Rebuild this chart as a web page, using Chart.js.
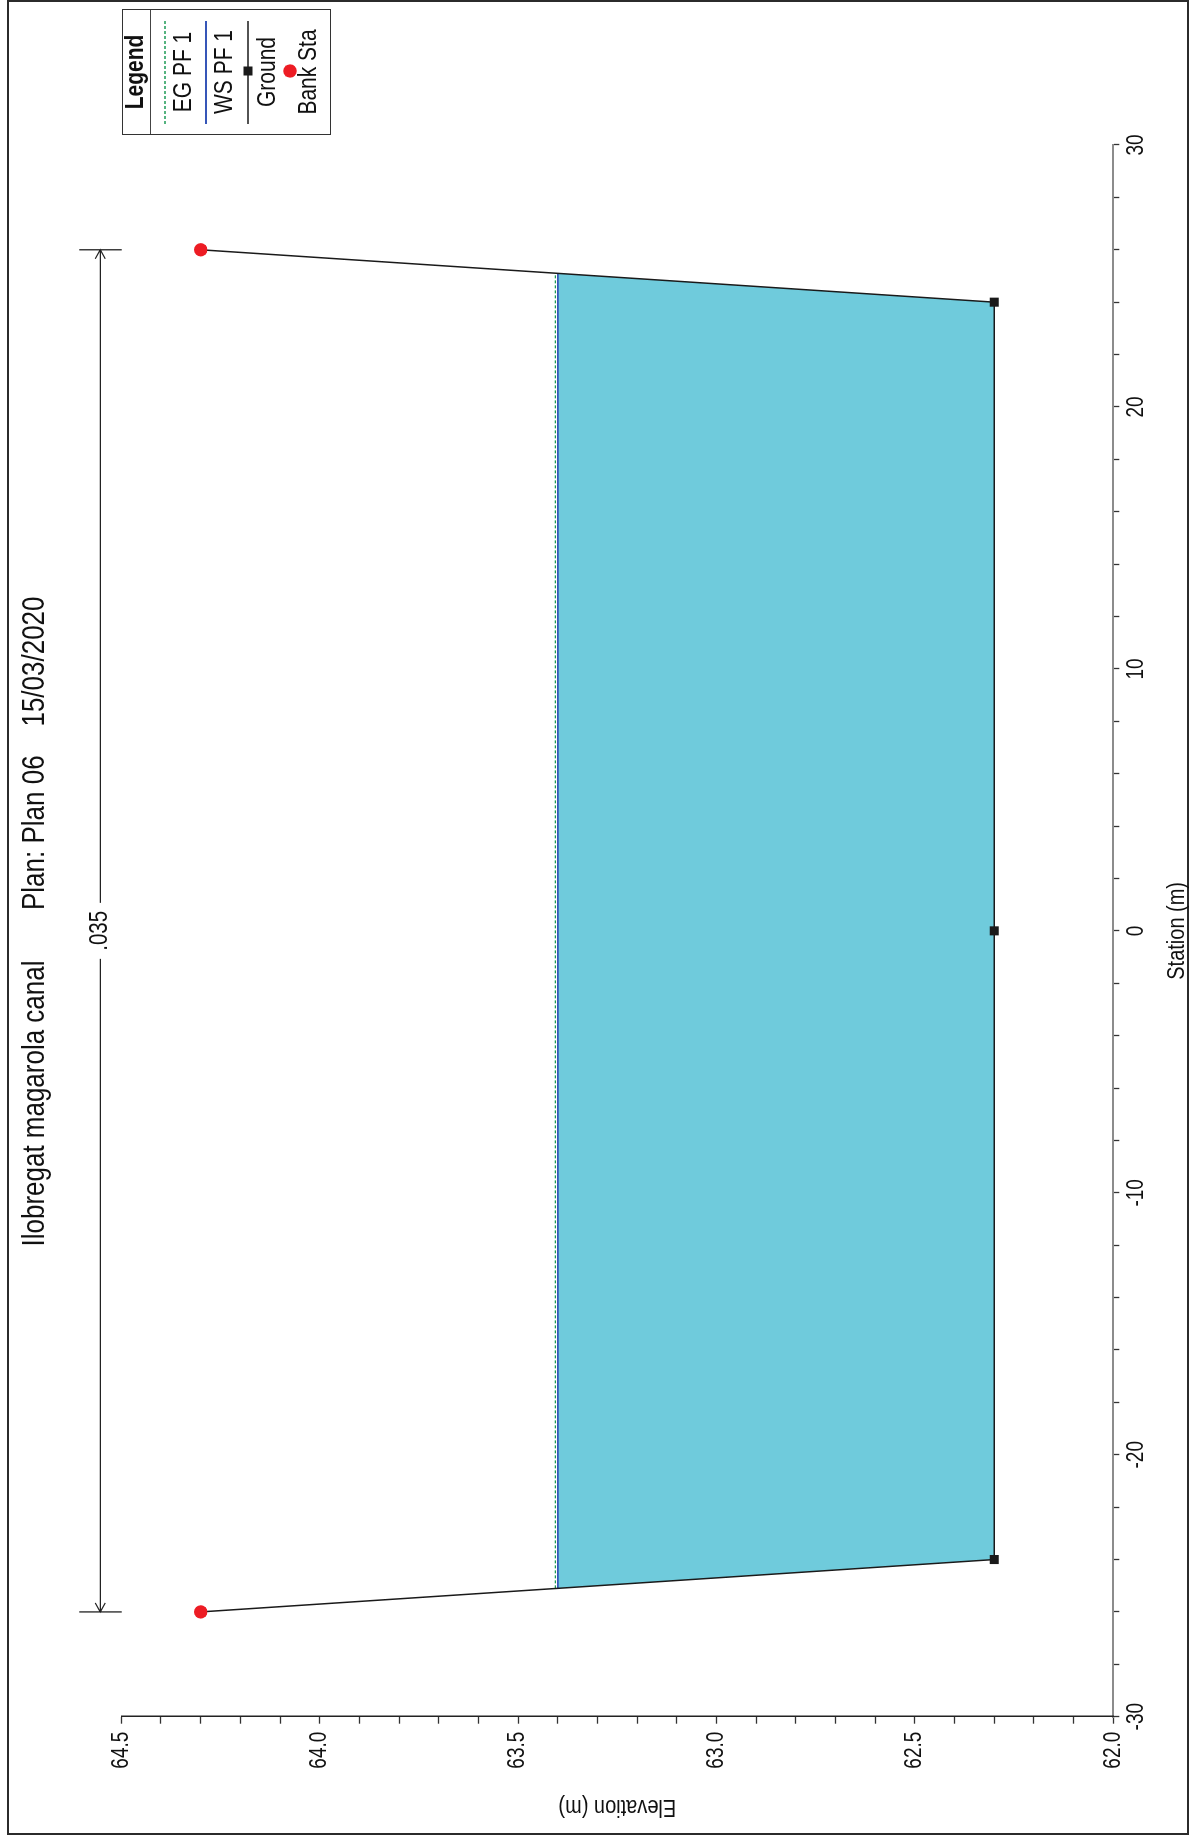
<!DOCTYPE html>
<html lang="es">
<head>
<meta charset="UTF-8">
<title>Ilobregat magarola canal - Plan 06</title>
<script src="https://cdn.jsdelivr.net/npm/chart.js"></script>
<style>
  html, body { margin: 0; padding: 0; background: #fff; overflow: hidden; }
  body { width: 1195px; height: 1843px; position: relative; color: #111; }
  #frame { position: absolute; left: 7px; top: 0; width: 1182px; height: 1835px; border: 2px solid #2b2b2b; box-sizing: border-box; }
  /* chart is drawn landscape, then turned a quarter turn to the left */
  #wrap { position: absolute; left: 0; top: 0; width: 1843px; height: 1195px; transform-origin: 0 0; transform: translate(0, 1843px) rotate(-90deg); }
  #legend { position: absolute; left: 1708px; top: 122px; width: 126px; height: 209px; border: 1.5px solid #333; box-sizing: border-box; background: #fff; font-family: "Liberation Sans", Arial, sans-serif; }
  #legend .head { position: absolute; left: 0; right: 0; font-weight: bold; text-align: center; }
  #legend .rule { position: absolute; left: 0; right: 0; top: 27px; border-top: 1px solid #444; }
  #legend .txt { position: absolute; left: 0; right: 0; text-align: center; white-space: nowrap; }
  #legend svg { position: absolute; left: 0; }
</style>
</head>
<body>
<div id="frame"></div>
<div id="wrap">
  <canvas id="xs"></canvas>
  <div id="legend"></div>
</div>

<script>
// cross section data (station m, elevation m)
const stations = [-26, -24, 0, 24, 26];
const groundElev = [64.3, 62.3, 62.3, 62.3, 64.3];
const bankStations = [-26, 26];
const bankElev = [64.3, 64.3];
const wsEdges = [-25.1, 25.1];
const wsElev = 63.40;
const egElev = 63.406;
const nValues = ['.035'];
const elevMajorTicks = [62.0, 62.5, 63.0, 63.5, 64.0, 64.5];
const stationMajorTicks = [-30, -20, -10, 0, 10, 20, 30];
const titleText = 'Ilobregat magarola canal       Plan: Plan 06    15/03/2020';
const legendOrder = ['EG PF 1', 'WS PF 1', 'Ground', 'Bank Sta'];

const ground = stations.map((s, i) => ({ x: s, y: groundElev[i] }));
const banks = bankStations.map((s, i) => ({ x: s, y: bankElev[i] }));
const wsLine = wsEdges.map(s => ({ x: s, y: wsElev }));
const egLine = wsEdges.map(s => ({ x: s, y: egElev }));

// wetted area: water surface, then the ground points under it
const water = wsLine.slice();
for (let i = stations.length - 1; i >= 0; i--) {
  if (stations[i] > wsEdges[0] && stations[i] < wsEdges[1]) water.push(ground[i]);
}
water.push(wsLine[0]);

// the plot lettering is narrow: draw text squeezed along its run
const SQUEEZE = 0.82;
const K = 1 / SQUEEZE;
const FAMILY = '"Liberation Sans", Arial, sans-serif';
const fsTitle = 26 * K, fsTick = 19 * K, fsAxis = 20 * K, fsLegend = 21 * K, fsN = 20.5 * K;

const canvas = document.getElementById('xs');
const c2d = canvas.getContext('2d');
const rawFill = c2d.fillText;
const rawMeasure = c2d.measureText;
c2d.fillText = function (text, x, y, maxWidth) {
  this.save();
  this.translate(x, y);
  this.scale(SQUEEZE, 1);
  if (maxWidth === undefined) rawFill.call(this, text, 0, 0);
  else rawFill.call(this, text, 0, 0, maxWidth / SQUEEZE);
  this.restore();
};
c2d.measureText = function (text) {
  const m = rawMeasure.call(this, text);
  return { width: m.width * SQUEEZE, actualBoundingBoxAscent: m.actualBoundingBoxAscent, actualBoundingBoxDescent: m.actualBoundingBoxDescent };
};

Chart.defaults.font.family = FAMILY;
Chart.defaults.color = '#111';

// dimension line with the Manning n value above the plot
const nValuePlugin = {
  id: 'nValues',
  afterDatasetsDraw(chart) {
    const { ctx, chartArea, scales: { x } } = chart;
    const x1 = x.getPixelForValue(bankStations[0]);
    const x2 = x.getPixelForValue(bankStations[1]);
    const yl = chartArea.top - 21;
    const mid = (x1 + x2) / 2;
    ctx.save();
    ctx.strokeStyle = '#222';
    ctx.lineWidth = 1.3;
    ctx.beginPath();
    [x1, x2].forEach(px => { ctx.moveTo(px, yl - 21); ctx.lineTo(px, chartArea.top + 0.5); });
    ctx.moveTo(x1, yl); ctx.lineTo(mid - 28, yl);
    ctx.moveTo(mid + 28, yl); ctx.lineTo(x2, yl);
    ctx.moveTo(x1 + 9, yl - 5); ctx.lineTo(x1, yl); ctx.lineTo(x1 + 9, yl + 5);
    ctx.moveTo(x2 - 9, yl - 5); ctx.lineTo(x2, yl); ctx.lineTo(x2 - 9, yl + 5);
    ctx.stroke();
    ctx.fillStyle = '#111';
    ctx.font = fsN + 'px ' + FAMILY;
    ctx.textAlign = 'center';
    ctx.textBaseline = 'middle';
    ctx.fillText(nValues[0], mid, yl);
    ctx.restore();
  }
};

const chart = new Chart(canvas, {
  type: 'scatter',
  data: {
    datasets: [
      {
        label: 'Bank Sta',
        data: banks,
        pointStyle: 'circle',
        pointRadius: 6.7,
        backgroundColor: '#ed1c24',
        borderWidth: 0
      },
      {
        label: 'Ground',
        data: ground,
        showLine: true,
        borderColor: '#1a1a1a',
        borderWidth: 1.5,
        pointStyle: 'rect',
        pointRadius: 6.4,
        pointBackgroundColor: '#1a1a1a',
        pointBorderWidth: 0
      },
      {
        label: 'WS PF 1',
        data: wsLine,
        showLine: true,
        borderColor: '#3656b8',
        borderWidth: 1.8,
        pointRadius: 0
      },
      {
        label: 'EG PF 1',
        data: egLine,
        showLine: true,
        borderColor: '#1c9a55',
        borderWidth: 1.3,
        borderDash: [3, 2],
        pointRadius: 0
      },
      {
        label: 'water',
        data: water,
        showLine: true,
        borderWidth: 0,
        backgroundColor: '#6fcbdc',
        fill: 'shape',
        pointRadius: 0
      }
    ]
  },
  options: {
    responsive: true,
    maintainAspectRatio: false,
    animation: false,
    events: [],
    layout: { padding: 0 },
    plugins: {
      legend: { display: false },
      tooltip: { enabled: false },
      title: {
        display: true,
        text: titleText,
        font: { size: fsTitle, weight: 'normal' },
        color: '#111',
        padding: { top: 35 - 0.6 * fsTitle, bottom: 121.3 - 35 - 0.6 * fsTitle }
      }
    },
    scales: {
      x: {
        type: 'linear',
        position: 'bottom',
        min: -30,
        max: 30,
        afterFit: s => { s.height = 81.7; },
        ticks: {
          stepSize: 2,
          autoSkip: false,
          maxRotation: 0,
          padding: 3,
          font: { size: fsTick },
          callback: v => stationMajorTicks.includes(Math.round(v)) && Math.abs(v - Math.round(v)) < 1e-6 ? String(Math.round(v)) : ''
        },
        grid: { drawOnChartArea: false, drawTicks: true, tickLength: 6, tickColor: '#333', tickWidth: 1.3 },
        border: { display: true, color: '#8c8c8c', width: 2 },
        title: { display: true, text: 'Station (m)', font: { size: fsAxis }, padding: { top: 0, bottom: 1195 - 1177 - 0.6 * fsAxis } }
      },
      y: {
        type: 'linear',
        position: 'left',
        min: 62,
        max: 64.5,
        afterFit: s => { s.width = 126.3; },
        ticks: {
          stepSize: 0.1,
          maxTicksLimit: 100,
          autoSkip: false,
          padding: 8,
          font: { size: fsTick },
          callback: v => {
            const m = elevMajorTicks.find(t => Math.abs(t - v) < 1e-6);
            return m === undefined ? '' : m.toFixed(1);
          }
        },
        grid: { drawOnChartArea: false, drawTicks: true, tickLength: 7, tickColor: '#333', tickWidth: 1.3 },
        border: { display: true, color: '#222', width: 1.5 },
        title: { display: true, text: 'Elevation (m)', font: { size: fsAxis }, padding: { top: 36 - 0.6 * fsAxis, bottom: 0 } }
      },
      // keeps room for the legend on the right
      legendRoom: {
        type: 'linear',
        position: 'right',
        afterFit: s => { s.width = 145; },
        ticks: { display: false },
        grid: { display: false },
        border: { display: false }
      }
    }
  },
  plugins: [nValuePlugin]
});

// legend box, built from the datasets
function buildLegend(chart) {
  const box = document.getElementById('legend');
  const lift = 0.4885 * fsLegend;
  const textCss = 'font-size:' + fsLegend + 'px;line-height:' + fsLegend + 'px;transform:scaleX(' + SQUEEZE + ')';
  box.innerHTML = '<div class="head" style="top:' + (11.6 - lift) + 'px;' + textCss + '">Legend</div><div class="rule"></div>';
  const rowY = [41.6, 83.3, 125, 167.3];
  const textY = [60, 100.8, 143.3, 185];
  legendOrder.forEach((name, i) => {
    const ds = chart.data.datasets.find(d => d.label === name);
    const cy = rowY[i];
    let svg = '<svg width="126" height="20" style="top:' + (cy - 10) + 'px">';
    if (ds.showLine) {
      svg += '<line x1="10" x2="113" y1="10" y2="10" stroke="' + ds.borderColor + '" stroke-width="' + ds.borderWidth + '"' +
        (ds.borderDash ? ' stroke-dasharray="' + ds.borderDash.join(',') + '"' : '') + '/>';
    }
    if (ds.pointStyle === 'rect') {
      svg += '<rect x="58.5" y="5.5" width="9" height="9" fill="' + ds.pointBackgroundColor + '"/>';
    } else if (ds.pointStyle === 'circle') {
      svg += '<circle cx="63" cy="10" r="' + ds.pointRadius + '" fill="' + ds.backgroundColor + '"/>';
    }
    svg += '</svg>';
    box.insertAdjacentHTML('beforeend', svg);
    const t = document.createElement('div');
    t.className = 'txt';
    t.style.cssText = 'top:' + (textY[i] - lift) + 'px;' + textCss;
    t.textContent = name;
    box.appendChild(t);
  });
}
buildLegend(chart);
</script>
</body>
</html>
